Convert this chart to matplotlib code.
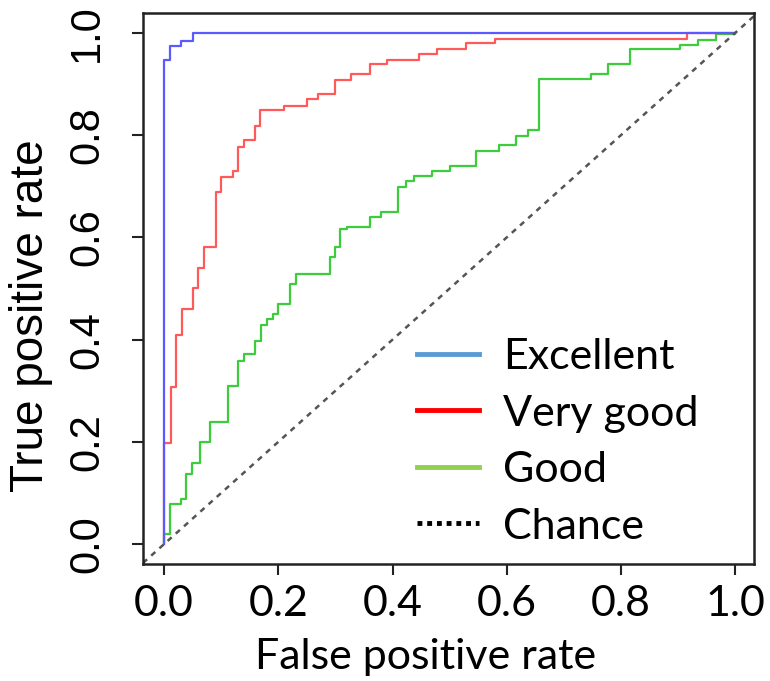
import matplotlib
matplotlib.use("Agg")
import matplotlib.pyplot as plt
from matplotlib.lines import Line2D

# ---- data ----
excellent_fpr = [0.0, 0.0, 0.01, 0.03, 0.05, 1.0]
excellent_tpr = [0.0, 0.947, 0.975, 0.985, 1.0, 1.0]

verygood_fpr = [0.0, 0.0, 0.012, 0.02, 0.031, 0.05, 0.06, 0.07, 0.091, 0.1, 0.12, 0.13,
                0.139, 0.159, 0.168, 0.21, 0.25, 0.27, 0.299, 0.328, 0.36, 0.39, 0.447,
                0.478, 0.528, 0.579, 0.915, 1.0]
verygood_tpr = [0.0, 0.198, 0.308, 0.41, 0.459, 0.5, 0.54, 0.581, 0.689, 0.718, 0.73, 0.777,
                0.79, 0.818, 0.849, 0.857, 0.87, 0.88, 0.908, 0.92, 0.94, 0.948, 0.959,
                0.968, 0.98, 0.988, 1.0, 1.0]

good_fpr = [0.0, 0.0, 0.0105, 0.029, 0.0385, 0.048, 0.062, 0.08, 0.111, 0.13, 0.14, 0.159,
            0.169, 0.18, 0.191, 0.2, 0.22, 0.231, 0.29, 0.299, 0.308, 0.321, 0.36, 0.379,
            0.41, 0.423, 0.437, 0.469, 0.5, 0.547, 0.587, 0.617, 0.638, 0.657, 0.747,
            0.778, 0.815, 0.904, 0.935, 0.966, 1.0]
good_tpr = [0.0, 0.019, 0.079, 0.088, 0.138, 0.159, 0.199, 0.238, 0.31, 0.359, 0.371, 0.398,
            0.429, 0.44, 0.45, 0.469, 0.509, 0.529, 0.561, 0.581, 0.617, 0.62, 0.64, 0.65,
            0.699, 0.711, 0.72, 0.729, 0.739, 0.769, 0.78, 0.798, 0.81, 0.909, 0.92,
            0.939, 0.968, 0.976, 0.987, 0.998, 1.0]

ticks = [0.0, 0.2, 0.4, 0.6, 0.8, 1.0]
tick_labels = ["0.0", "0.2", "0.4", "0.6", "0.8", "1.0"]
legend_labels = ["Excellent", "Very good", "Good", "Chance"]

# ---- figure ----
fig = plt.figure(figsize=(7.7, 6.81), dpi=100)
ax = fig.add_axes([143 / 770, 1 - 564 / 681, 611 / 770, 551 / 681])

ax.plot(good_fpr, good_tpr, drawstyle="steps-post", color="#3ccc3c", lw=1.6)
ax.plot(verygood_fpr, verygood_tpr, drawstyle="steps-post", color="#ff5a5a", lw=1.6)
ax.plot(excellent_fpr, excellent_tpr, drawstyle="steps-post", color="#5a5aff", lw=1.6)
ax.axline((0, 0), (1, 1), color="#555555", lw=1.8, linestyle=(0, (2.2, 2.2)))

ax.set_xlim(-0.037, 1.033)
ax.set_ylim(-0.039, 1.039)

for s in ax.spines.values():
    s.set_linewidth(1.8)
    s.set_color("#222222")

ax.set_xticks(ticks)
ax.set_xticklabels(tick_labels, fontfamily="Lato", fontsize=31)
ax.set_yticks(ticks)
ax.set_yticklabels(tick_labels, fontfamily="Liberation Sans", fontsize=30, rotation=90,
                   va="center")
ax.tick_params(axis="both", direction="out", length=8, width=1.5, color="#222222")
ax.tick_params(axis="x", pad=7)
ax.tick_params(axis="y", pad=18)

ax.set_xlabel("False positive rate", fontfamily="Lato", fontsize=31)
ax.xaxis.set_label_coords(0.463, -0.134)
ax.set_ylabel("True positive rate", fontfamily="Liberation Sans", fontsize=33)
ax.yaxis.set_label_coords(-0.147, 0.45)

handles = [
    Line2D([], [], color="#5b9bd5", lw=3.5),
    Line2D([], [], color="#ff0000", lw=3.5),
    Line2D([], [], color="#92d050", lw=3.5),
    Line2D([], [], color="black", lw=3.5, linestyle=(0, (1, 1)), dash_capstyle="butt"),
]
leg = ax.legend(handles, legend_labels, loc="upper left",
                bbox_to_anchor=(417 / 770, 1 - 338 / 681), bbox_transform=fig.transFigure,
                frameon=False, prop={"family": "Lato", "size": 31},
                handlelength=1.44, handletextpad=0.56, labelspacing=0.43,
                borderpad=0, borderaxespad=0)

fig.savefig("out.png", dpi=100)
